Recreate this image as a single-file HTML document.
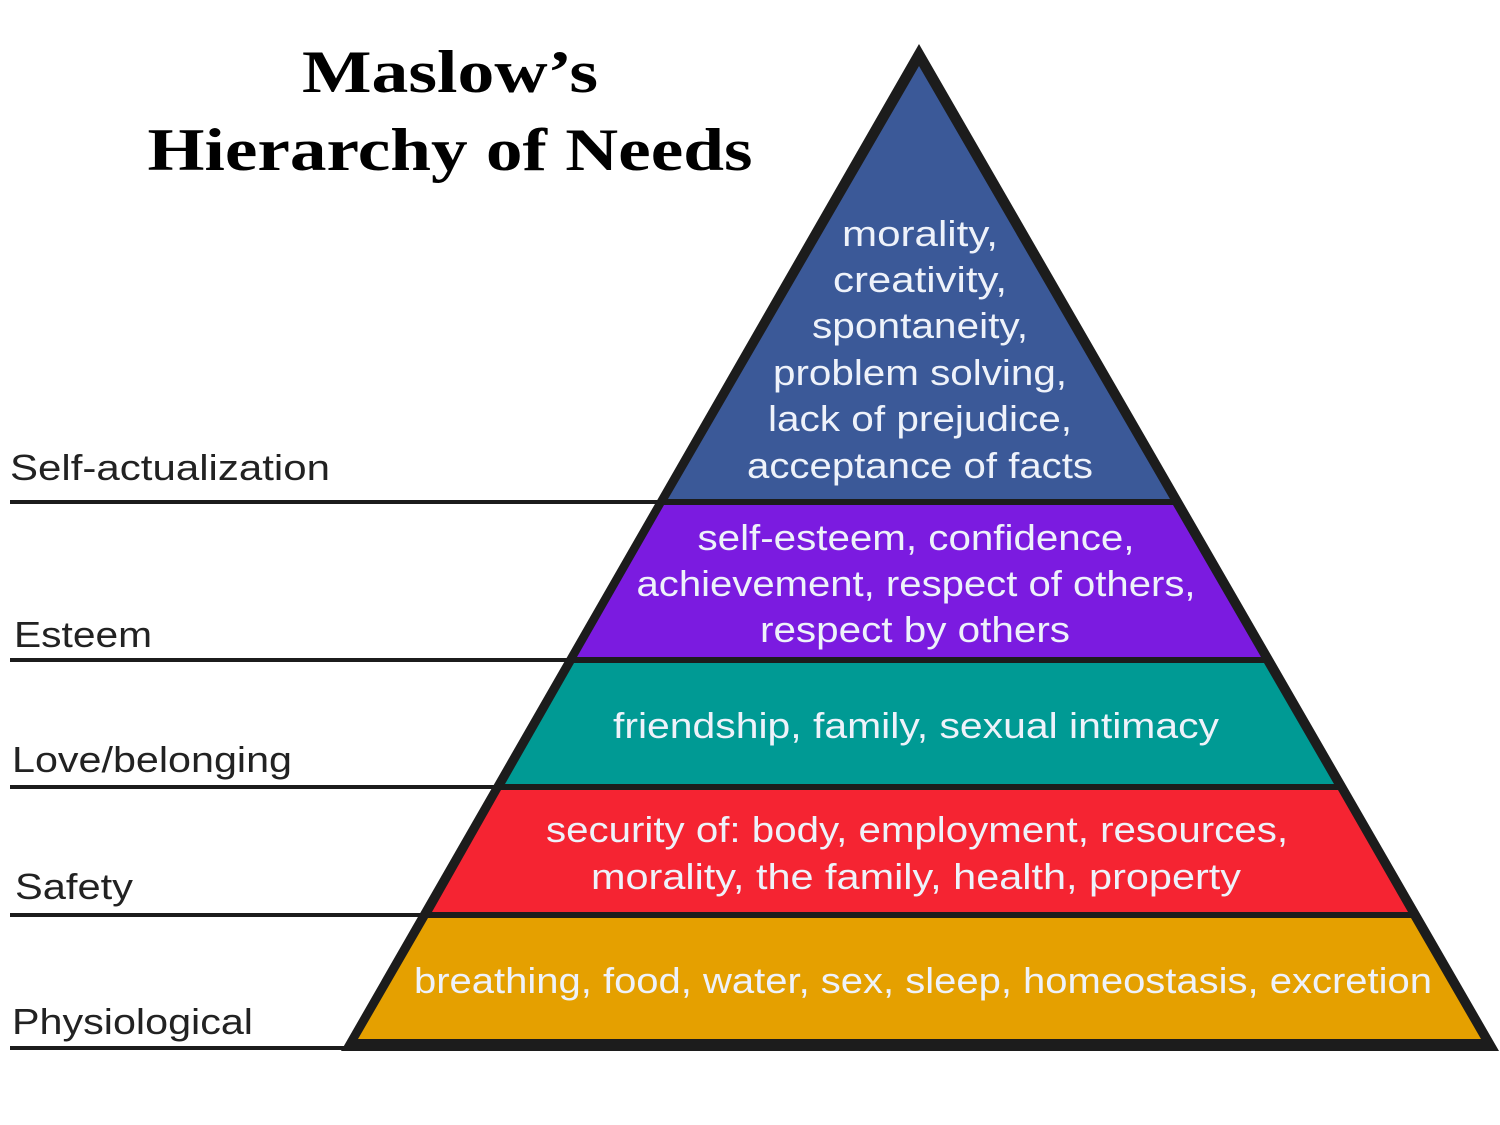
<!DOCTYPE html>
<html><head><meta charset="utf-8"><style>html,body{margin:0;padding:0;background:#fff}svg{display:block}</style></head>
<body>
<svg width="1500" height="1125" viewBox="0 0 1500 1125" xmlns="http://www.w3.org/2000/svg">
<rect width="1500" height="1125" fill="#fff"/>
<g stroke="#1c1c1c" stroke-width="4">
<line x1="10" y1="502" x2="665" y2="502"/>
<line x1="10" y1="660" x2="575" y2="660"/>
<line x1="10" y1="787" x2="500" y2="787"/>
<line x1="10" y1="915" x2="428" y2="915"/>
<line x1="10" y1="1048" x2="350" y2="1048"/>
</g>
<polygon points="919,44 341,1051 1499,1051" fill="#1c1c1c"/>
<polygon points="919,66 668,499 1170,499" fill="#3b5998"/>
<polygon points="664,505 1173,505 1261,657 577,657" fill="#7b1be0"/>
<polygon points="574,663 1264,663 1334,784 505,784" fill="#009a94"/>
<polygon points="501,790 1338,790 1408,912 432,912" fill="#f52432"/>
<polygon points="428,918 1411,918 1481,1039 358,1039" fill="#e5a000"/>
<g font-family="Liberation Serif, serif" font-weight="bold" font-size="60" fill="#000" text-anchor="middle">
<text x="450" y="92" textLength="296" lengthAdjust="spacingAndGlyphs">Maslow’s</text>
<text x="450" y="170" textLength="605" lengthAdjust="spacingAndGlyphs">Hierarchy of Needs</text>
</g>
<g font-family="Liberation Sans, sans-serif" font-size="36" fill="#222">
<text x="10" y="480" textLength="320" lengthAdjust="spacingAndGlyphs">Self-actualization</text>
<text x="14" y="647" textLength="138" lengthAdjust="spacingAndGlyphs">Esteem</text>
<text x="12" y="772" textLength="280" lengthAdjust="spacingAndGlyphs">Love/belonging</text>
<text x="15" y="899" textLength="118" lengthAdjust="spacingAndGlyphs">Safety</text>
<text x="12" y="1034" textLength="241" lengthAdjust="spacingAndGlyphs">Physiological</text>
</g>
<g font-family="Liberation Sans, sans-serif" font-size="36" fill="#eef2fa" text-anchor="middle" lengthAdjust="spacingAndGlyphs">
<text x="920" y="246" textLength="156" lengthAdjust="spacingAndGlyphs">morality,</text>
<text x="920" y="292" textLength="174" lengthAdjust="spacingAndGlyphs">creativity,</text>
<text x="920" y="338" textLength="216" lengthAdjust="spacingAndGlyphs">spontaneity,</text>
<text x="920" y="385" textLength="294" lengthAdjust="spacingAndGlyphs">problem solving,</text>
<text x="920" y="431" textLength="304" lengthAdjust="spacingAndGlyphs">lack of prejudice,</text>
<text x="920" y="478" textLength="346" lengthAdjust="spacingAndGlyphs">acceptance of facts</text>
<text x="916" y="550" textLength="437" lengthAdjust="spacingAndGlyphs">self-esteem, confidence,</text>
<text x="916" y="596" textLength="559" lengthAdjust="spacingAndGlyphs">achievement, respect of others,</text>
<text x="915" y="642" textLength="310" lengthAdjust="spacingAndGlyphs">respect by others</text>
<text x="916" y="738" textLength="606" lengthAdjust="spacingAndGlyphs">friendship, family, sexual intimacy</text>
<text x="917" y="842" textLength="742" lengthAdjust="spacingAndGlyphs">security of: body, employment, resources,</text>
<text x="916" y="889" textLength="650" lengthAdjust="spacingAndGlyphs">morality, the family, health, property</text>
<text x="923" y="993" textLength="1018" lengthAdjust="spacingAndGlyphs">breathing, food, water, sex, sleep, homeostasis, excretion</text>
</g>
</svg>
</body></html>
